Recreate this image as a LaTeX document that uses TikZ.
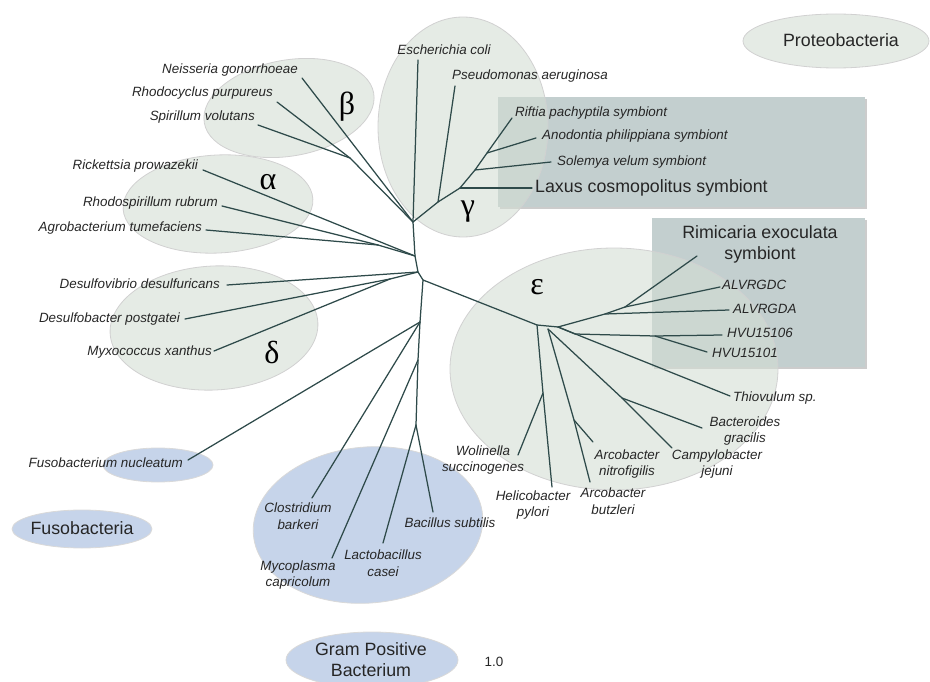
\documentclass[tikz,border=0pt]{standalone}
\usepackage{fontspec}
\setmainfont{Liberation Sans}
\newfontfamily\grkfont{Liberation Serif}
\definecolor{branch}{HTML}{2E4A4A}
\definecolor{grn}{HTML}{D3DDD3}
\definecolor{blu}{HTML}{C6D4EA}
\definecolor{boxc}{HTML}{C3CFCF}
\definecolor{txt}{HTML}{262626}
\begin{document}
\begin{tikzpicture}[x=1pt,y=-1pt,
  lab/.style={font=\fontsize{13.4}{16.5}\selectfont\itshape, text=txt, inner sep=0pt, align=center},
  grp/.style={font=\fontsize{17.8}{21}\selectfont, text=txt, inner sep=0pt, align=center},
  greek/.style={font=\grkfont\fontsize{32}{32}\selectfont, text=black, inner sep=0pt},
  br/.style={draw=branch, line width=1.25pt, line cap=round, line join=round},
  grnell/.style={fill=grn, fill opacity=0.6, draw=black!18, line width=0.8pt},
  bluell/.style={fill=blu, draw=black!15, line width=0.8pt},
  boxshadow/.style={fill=black!20},
  graybox/.style={fill=boxc}]
\useasboundingbox (0,0) rectangle (930,682);
% gray boxes
\fill[boxshadow] (500,99) rectangle (867,209);
\fill[graybox] (498,97) rectangle (865,207);
\fill[boxshadow] (654,220) rectangle (867,369);
\fill[graybox] (652,218) rectangle (865,367);
% green ellipses
\path[grnell] (836,41) ellipse [x radius=93pt, y radius=27pt];
\path[grnell, shift={(289,108)}, rotate=10] (0,0) ellipse [x radius=86pt, y radius=48pt];
\path[grnell, shift={(218,204)}, rotate=3] (0,0) ellipse [x radius=95pt, y radius=49pt];
\path[grnell, shift={(214,328)}, rotate=3] (0,0) ellipse [x radius=104pt, y radius=62pt];
\path[grnell] (463,127) ellipse [x radius=85pt, y radius=110pt];
\path[grnell] (614,369) ellipse [x radius=164pt, y radius=121pt];
% blue ellipses
\path[bluell, shift={(368,525)}, rotate=5] (0,0) ellipse [x radius=115pt, y radius=78pt];
\path[bluell] (158,465) ellipse [x radius=55pt, y radius=17pt];
\path[bluell] (82,529) ellipse [x radius=70pt, y radius=19pt];
\path[bluell] (372,660) ellipse [x radius=86pt, y radius=28pt];
% group labels
\node[grp] (proteo) at (841,40) {Proteobacteria};
\node[grp] (fusoG) at (82,528) {Fusobacteria};
\node[grp] (gpb) at (371,660) {Gram Positive\\Bacterium};
\node[grp, anchor=west] (laxus) at (535,188) {Laxus cosmopolitus symbiont};
\node[grp] (rimi) at (760,244) {Rimicaria exoculata\\symbiont};
\node[font=\fontsize{13.4}{15}\selectfont, text=txt, inner sep=0pt] (scale) at (494,662) {1.0};
% greek letters
\node[greek] (beta) at (347,107) {β};
\node[greek] (alpha) at (268,182) {α};
\node[greek] (gamma) at (468,212) {γ};
\node[greek] (delta) at (272,352) {δ};
\node[greek] (eps) at (537,287) {ε};
% species labels (left side)
\node[lab, anchor=east] (neis) at (298,70) {Neisseria gonorrhoeae};
\node[lab, anchor=east] (rhodoc) at (273,93) {Rhodocyclus purpureus};
\node[lab, anchor=east] (spir) at (255,117) {Spirillum volutans};
\node[lab, anchor=east] (rick) at (198,166) {Rickettsia prowazekii};
\node[lab, anchor=east] (rhodsp) at (218,203) {Rhodospirillum rubrum};
\node[lab, anchor=east] (agro) at (202,228) {Agrobacterium tumefaciens};
\node[lab, anchor=east] (desv) at (220,284) {Desulfovibrio desulfuricans};
\node[lab, anchor=east] (desb) at (180,319) {Desulfobacter postgatei};
\node[lab, anchor=east] (myxo) at (212,352) {Myxococcus xanthus};
\node[lab, anchor=east] (fuso) at (183,463) {Fusobacterium nucleatum};
% species labels (top / right)
\node[lab] (ecoli) at (444,50) {Escherichia coli};
\node[lab, anchor=west] (pseudo) at (452,76) {Pseudomonas aeruginosa};
\node[lab, anchor=west] (riftia) at (515,113) {Riftia pachyptila symbiont};
\node[lab, anchor=west] (anod) at (542,136) {Anodontia philippiana symbiont};
\node[lab, anchor=west] (solemya) at (557,162) {Solemya velum symbiont};
\node[lab, anchor=west] (alvc) at (722,285) {ALVRGDC};
\node[lab, anchor=west] (alva) at (733,309) {ALVRGDA};
\node[lab, anchor=west] (hvu6) at (727,333) {HVU15106};
\node[lab, anchor=west] (hvu1) at (712,353) {HVU15101};
\node[lab, anchor=west] (thio) at (733,398) {Thiovulum sp.};
\node[lab] (bact) at (745,431) {Bacteroides\\gracilis};
\node[lab] (campy) at (717,464) {Campylobacter\\jejuni};
\node[lab] (arcn) at (627,464) {Arcobacter\\nitrofigilis};
\node[lab] (arcb) at (613,501) {Arcobacter\\butzleri};
\node[lab] (heli) at (533,505) {Helicobacter\\pylori};
\node[lab] (woli) at (483,460) {Wolinella\\succinogenes};
\node[lab] (bac) at (450,523) {Bacillus subtilis};
\node[lab] (lacto) at (383,563) {Lactobacillus\\casei};
\node[lab] (myco) at (298,575) {Mycoplasma\\capricolum};
\node[lab] (clos) at (298,516) {Clostridium\\barkeri};
% tree: internal nodes
\coordinate (ng) at (413,222);
\coordinate (na) at (415,256);
\coordinate (nd) at (418,272);
\coordinate (ne) at (423,280);
\coordinate (np) at (420,322);
\coordinate (g1) at (438,202);
\coordinate (g2) at (460,188);
\coordinate (g3) at (475,170);
\coordinate (g4) at (487,153);
\coordinate (nb) at (350,158);
\coordinate (nal) at (378,245);
\coordinate (ndl) at (390,279);
\coordinate (e0) at (537,325);
\coordinate (e1) at (558,327);
\coordinate (e2) at (548,329);
\coordinate (r1) at (605,314);
\coordinate (r2) at (625,307);
\coordinate (h1) at (575,334);
\coordinate (h2) at (655,336);
\coordinate (w1) at (543,393);
\coordinate (a1) at (574,420);
\coordinate (c1) at (622,398);
\coordinate (gp1) at (418,360);
\coordinate (gp2) at (416,425);
% tree: leaf tips
\coordinate (t-ecoli) at (418,60);
\coordinate (t-pseudo) at (455,86);
\coordinate (t-riftia) at (512,118);
\coordinate (t-anod) at (536,138);
\coordinate (t-solemya) at (551,162);
\coordinate (t-laxus) at (532,188);
\coordinate (t-neis) at (302,78);
\coordinate (t-rhodoc) at (277,102);
\coordinate (t-spir) at (258,125);
\coordinate (t-rick) at (203,170);
\coordinate (t-rhodsp) at (222,206);
\coordinate (t-agro) at (206,230);
\coordinate (t-desv) at (227,285);
\coordinate (t-desb) at (185,319);
\coordinate (t-myxo) at (214,351);
\coordinate (t-fuso) at (188,460);
\coordinate (t-clos) at (312,498);
\coordinate (t-myco) at (332,558);
\coordinate (t-lacto) at (383,543);
\coordinate (t-bac) at (433,512);
\coordinate (t-rimi) at (697,256);
\coordinate (t-alvc) at (720,287);
\coordinate (t-alva) at (729,310);
\coordinate (t-hvu6) at (722,335);
\coordinate (t-hvu1) at (707,352);
\coordinate (t-thio) at (730,396);
\coordinate (t-bact) at (702,428);
\coordinate (t-campy) at (672,448);
\coordinate (t-arcn) at (593,442);
\coordinate (t-arcb) at (590,482);
\coordinate (t-heli) at (552,487);
\coordinate (t-woli) at (518,455);
% trunk
\draw[br] (ng) -- (na) -- (nd) -- (ne) -- (np);
% gamma
\draw[br] (ng) -- (g1) -- (g2) -- (g3) -- (g4) -- (t-riftia);
\draw[br] (ng) -- (t-ecoli);
\draw[br] (g1) -- (t-pseudo);
\draw[br] (g2) -- (t-laxus);
\draw[br] (g3) -- (t-solemya);
\draw[br] (g4) -- (t-anod);
% beta
\draw[br] (ng) -- (t-neis);
\draw[br] (ng) -- (nb);
\draw[br] (nb) -- (t-rhodoc);
\draw[br] (nb) -- (t-spir);
% alpha
\draw[br] (na) -- (t-rick);
\draw[br] (na) -- (nal);
\draw[br] (nal) -- (t-rhodsp);
\draw[br] (nal) -- (t-agro);
% delta
\draw[br] (nd) -- (t-desv);
\draw[br] (nd) -- (ndl);
\draw[br] (ndl) -- (t-desb);
\draw[br] (ndl) -- (t-myxo);
% epsilon
\draw[br] (ne) -- (e0) -- (e1);
\draw[br] (e1) -- (r1) -- (r2);
\draw[br] (r1) -- (t-alva);
\draw[br] (r2) -- (t-alvc);
\draw[br] (r2) -- (t-rimi);
\draw[br] (e1) -- (h1) -- (h2) -- (t-hvu6);
\draw[br] (h2) -- (t-hvu1);
\draw[br] (e1) -- (t-thio);
\draw[br] (e0) -- (w1) -- (t-heli);
\draw[br] (w1) -- (t-woli);
\draw[br] (e2) -- (a1) -- (t-arcb);
\draw[br] (a1) -- (t-arcn);
\draw[br] (e2) -- (c1) -- (t-campy);
\draw[br] (c1) -- (t-bact);
% gram positive and fusobacteria
\draw[br] (np) -- (t-fuso);
\draw[br] (np) -- (t-clos);
\draw[br] (np) -- (gp1) -- (gp2);
\draw[br] (gp1) -- (t-myco);
\draw[br] (gp2) -- (t-lacto);
\draw[br] (gp2) -- (t-bac);
\end{tikzpicture}
\end{document}
